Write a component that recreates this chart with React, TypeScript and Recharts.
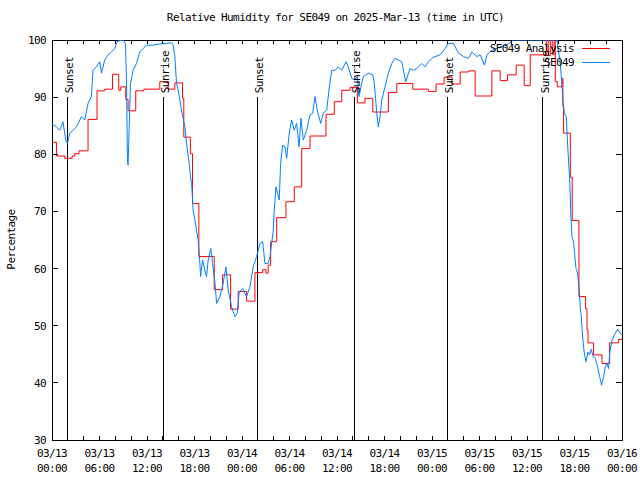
import React from 'react';
import { LineChart, Line, XAxis, YAxis, ReferenceLine, ReferenceDot, ReferenceArea, Legend } from 'recharts';

const FONT = '"DejaVu Sans Mono", "Liberation Mono", monospace';
const PLOT_W = 570;
const PLOT_H = 400;

const TITLE = 'Relative Humidity for SE049 on 2025-Mar-13 (time in UTC)';
const Y_LABEL = 'Percentage';

// x ticks (hours since 03/13 00:00 UTC)
const tickHours = [0, 2, 4, 6, 8, 10, 12, 14, 16, 18, 20, 22, 24, 26, 28, 30, 32, 34, 36, 38, 40, 42, 44, 46, 48, 50, 52, 54, 56, 58, 60, 62, 64, 66, 68, 70, 72];
const labelHours = [0, 6, 12, 18, 24, 30, 36, 42, 48, 54, 60, 66, 72];
const dateLabels = ['03/13', '03/13', '03/13', '03/13', '03/14', '03/14', '03/14', '03/14', '03/15', '03/15', '03/15', '03/15', '03/16'];
const timeLabels = ['00:00', '06:00', '12:00', '18:00', '00:00', '06:00', '12:00', '18:00', '00:00', '06:00', '12:00', '18:00', '00:00'];
const yTicks = [30, 40, 50, 60, 70, 80, 90, 100];

// sun events
const sunHours = [1.9, 14.05, 25.92, 38.15, 49.95, 62.02];
const sunLabels = ['Sunset', 'Sunrise', 'Sunset', 'Sunrise', 'Sunset', 'Sunrise'];
const sunLineTop = 90;

// SE049 Analysis (red, step)
const redHours = [0, 0.56, 1.61, 2.53, 2.87, 3.41, 4.55, 5.69, 6.66, 7.64, 8.43, 8.69, 9.32, 9.61, 10.58, 11.6, 13.62, 14.67, 15.52, 16.49, 16.65, 17.48, 17.75, 18.55, 20.49, 21.55, 22.56, 23.52, 24.58, 25.63, 26.61, 27.02, 27.31, 27.62, 28.38, 29.55, 30.6, 31.54, 32.59, 34.61, 35.66, 36.6, 37.65, 38.57, 39.54, 40.52, 42.49, 43.55, 45.57, 47.55, 48.52, 49.53, 50.51, 51.56, 52.61, 53.45, 55.56, 56.61, 57.54, 58.64, 59.65, 60.41, 62.43, 62.68, 62.94, 63.19, 63.44, 63.57, 63.82, 64.42, 64.54, 64.62, 65.47, 65.71, 66.56, 67.4, 67.58, 67.7, 68.41, 69.47, 70.44, 71.57, 72];
const redValues = [82.1, 79.7, 79.3, 79.7, 80.1, 80.6, 86.1, 91.1, 91.4, 94.0, 91.2, 91.8, 89.6, 87.6, 91.1, 91.4, 92.7, 91.4, 92.5, 89.8, 83.0, 80.1, 71.4, 62.1, 56.3, 58.9, 52.9, 56.0, 54.3, 59.3, 59.8, 59.2, 60.6, 64.7, 68.9, 71.7, 74.3, 81.0, 83.2, 87.0, 89.2, 91.2, 91.7, 89.0, 89.8, 87.4, 90.8, 92.4, 91.4, 91.0, 92.3, 93.5, 92.3, 94.4, 94.6, 90.2, 94.6, 92.9, 93.9, 95.6, 92.0, 97.4, 100, 97.3, 100, 97.5, 100, 92.7, 91.8, 93.3, 88.3, 83.7, 76.0, 68.4, 55.1, 53.0, 49.3, 47.0, 44.9, 43.4, 47.0, 47.6, 47.6];

// SE049 observations (blue)
const blueHours = [0, 0.56, 0.97, 1.39, 1.73, 1.95, 2.24, 2.66, 3.09, 3.72, 4.14, 4.55, 4.98, 5.18, 5.61, 6.03, 6.25, 6.66, 7.08, 7.51, 7.93, 8.22, 8.56, 8.98, 9.28, 9.41, 9.53, 9.61, 9.74, 9.91, 10.24, 10.67, 11.09, 11.94, 12.77, 13.62, 15.1, 15.3, 15.52, 15.73, 15.93, 16.15, 16.36, 16.78, 17.0, 17.32, 17.5, 17.63, 17.83, 18.05, 18.46, 18.68, 18.77, 19.02, 19.31, 19.52, 19.73, 20.07, 20.28, 20.57, 20.79, 21.21, 21.62, 21.97, 22.26, 22.69, 23.1, 23.39, 23.65, 24.08, 24.58, 25.0, 25.42, 25.85, 26.26, 26.61, 26.9, 27.31, 27.53, 27.95, 28.07, 28.29, 28.7, 28.88, 29.13, 29.43, 29.64, 29.97, 30.27, 30.6, 30.9, 31.2, 31.45, 31.74, 32.17, 32.59, 32.93, 33.22, 33.51, 33.94, 34.27, 34.7, 35.03, 35.33, 35.75, 36.17, 36.6, 37.14, 37.43, 37.86, 38.19, 38.57, 38.78, 39.12, 39.33, 39.96, 40.52, 40.72, 41.02, 41.22, 41.44, 41.65, 42.07, 42.49, 42.92, 43.34, 43.75, 44.18, 44.39, 44.69, 45.02, 45.23, 45.65, 46.08, 46.71, 47.13, 47.55, 48.18, 49.03, 49.66, 50.08, 50.71, 51.34, 51.97, 52.61, 53.03, 53.67, 54.08, 54.63, 54.93, 55.56, 56.61, 57.46, 58.3, 63.78, 64.2, 64.54, 64.71, 64.96, 65.17, 65.38, 65.55, 65.68, 65.88, 66.01, 66.19, 66.39, 66.6, 66.73, 66.86, 66.98, 67.15, 67.27, 67.45, 67.7, 67.91, 68.12, 68.34, 68.63, 68.92, 69.17, 69.42, 69.68, 69.89, 70.1, 70.31, 70.44, 70.74, 71.16, 71.45, 71.79, 72];
const blueValues = [85.3, 84.8, 84.2, 85.7, 82.5, 81.9, 83.7, 84.2, 84.8, 86.6, 86.0, 88.9, 90.1, 94.7, 95.3, 96.2, 94.2, 96.5, 97.4, 97.9, 98.5, 99.7, 99.9, 100, 99.4, 93.0, 79.0, 78.1, 84.2, 92.4, 94.7, 95.9, 97.9, 99.1, 99.1, 99.3, 99.5, 99.1, 97.1, 92.4, 91.2, 89.5, 87.7, 84.8, 81.9, 78.4, 76.0, 74.9, 70.2, 68.5, 65.0, 60.9, 58.6, 61.5, 59.7, 58.6, 61.5, 63.5, 60.9, 57.7, 53.9, 55.1, 57.4, 60.3, 56.2, 53.3, 51.6, 52.2, 55.9, 56.5, 55.1, 56.8, 60.3, 62.1, 64.4, 64.7, 60.9, 60.9, 62.1, 66.7, 70.2, 74.3, 72.0, 78.4, 81.6, 81.3, 79.3, 83.7, 86.0, 84.2, 85.4, 81.3, 86.3, 82.5, 84.2, 86.9, 87.2, 90.1, 87.7, 85.4, 87.2, 87.7, 91.8, 94.7, 94.7, 95.3, 94.7, 96.2, 95.3, 93.3, 93.0, 93.6, 90.1, 92.4, 93.6, 94.2, 93.9, 92.4, 87.2, 84.8, 86.6, 89.5, 91.8, 94.2, 95.9, 96.8, 96.5, 96.2, 94.7, 92.7, 94.2, 95.0, 94.7, 95.0, 95.9, 95.3, 96.2, 97.0, 97.4, 98.5, 99.4, 99.4, 97.7, 97.1, 96.8, 97.9, 97.1, 97.4, 95.6, 97.4, 98.2, 98.8, 99.1, 100, 100, 96.0, 89.5, 87.2, 86.6, 80.7, 76.0, 69.1, 65.6, 64.7, 62.7, 60.0, 59.2, 56.2, 53.3, 51.6, 48.9, 46.3, 44.9, 43.7, 45.4, 44.9, 45.9, 44.6, 44.3, 42.8, 41.1, 39.6, 41.1, 42.8, 43.4, 42.5, 45.2, 47.5, 48.7, 49.4, 48.7, 48.4];

const RED = '#ff0000';
const BLUE = '#0080ff';
const seriesNames = ['SE049 Analysis', 'SE049'];
const seriesColors = [RED, BLUE];

const redData = redHours.map((t, i) => ({ t, v: redValues[i] }));
const blueData = blueHours.map((t, i) => ({ t, v: blueValues[i] }));

const textStyle: React.CSSProperties = { fontFamily: FONT, fontSize: 11, letterSpacing: -0.6 };

const XTick = (props: any) => {
  const { x, y, payload } = props;
  const idx = labelHours.indexOf(payload.value);
  return (
    <g>
      <line x1={x} y1={y} x2={x} y2={y - 4} stroke="#000" shapeRendering="crispEdges" />
      <line x1={x} y1={y - PLOT_H} x2={x} y2={y - PLOT_H + 4} stroke="#000" shapeRendering="crispEdges" />
      {idx >= 0 && (
        <text x={x} y={y + 17} textAnchor="middle" fill="#000" style={textStyle}>{dateLabels[idx]}</text>
      )}
      {idx >= 0 && (
        <text x={x} y={y + 32} textAnchor="middle" fill="#000" style={textStyle}>{timeLabels[idx]}</text>
      )}
    </g>
  );
};

const YTick = (props: any) => {
  const { x, y, payload } = props;
  return (
    <g>
      <line x1={x} y1={y} x2={x + 6} y2={y} stroke="#000" shapeRendering="crispEdges" />
      <line x1={x + PLOT_W - 6} y1={y} x2={x + PLOT_W} y2={y} stroke="#000" shapeRendering="crispEdges" />
      <text x={x - 6} y={y} dy={4} textAnchor="end" fill="#000" style={textStyle}>{payload.value}</text>
    </g>
  );
};

const SunLabel = (text: string) => (p: any) => {
  const lx = p.cx + 2;
  const ly = p.cy - 4;
  return (
    <text x={lx} y={ly} dy={4} transform={`rotate(-90 ${lx} ${ly})`} textAnchor="start" fill="#000" style={textStyle}>{text}</text>
  );
};

const LegendBox = () => (
  <div>
    {seriesNames.map((n, i) => (
      <div key={n} style={{ display: 'flex', justifyContent: 'flex-end', alignItems: 'center', height: 14 }}>
        <span style={{ ...textStyle, color: '#000', whiteSpace: 'pre' }}>{n}</span>
        <div style={{ width: 28, height: 0, borderTop: `1px solid ${seriesColors[i]}`, marginLeft: 8 }} />
      </div>
    ))}
  </div>
);

export default function App() {
  return (
    <div style={{ position: 'absolute', left: 0, top: 0, width: 640, height: 480, background: '#fff' }}>
      <div style={{ position: 'absolute', left: 0, top: 11, width: 671, textAlign: 'center', ...textStyle, color: '#000', whiteSpace: 'pre' }}>{TITLE}</div>
      <div style={{ position: 'absolute', left: 11, top: 240, width: 0, height: 0 }}>
        <div style={{ position: 'absolute', left: -50, top: -7, width: 100, textAlign: 'center', transform: 'rotate(-90deg)', ...textStyle, color: '#000' }}>{Y_LABEL}</div>
      </div>
      <LineChart width={640} height={480} margin={{ top: 40, right: 18, bottom: 0, left: 0 }}>
        <ReferenceArea x1={0} x2={72} y1={30} y2={100} fill="none" stroke="#000" strokeWidth={1} ifOverflow="visible" shapeRendering="crispEdges" />
        <XAxis dataKey="t" type="number" domain={[0, 72]} ticks={tickHours} interval={0} tick={(p: any) => <XTick {...p} />} tickLine={false} axisLine={false} tickSize={0} tickMargin={0} height={40} allowDataOverflow />
        <YAxis type="number" domain={[30, 100]} ticks={yTicks} interval={0} tick={(p: any) => <YTick {...p} />} tickLine={false} axisLine={false} tickSize={0} tickMargin={0} width={52} allowDataOverflow />
        {sunHours.map((t, i) => (
          <ReferenceLine key={`l${i}`} segment={[{ x: t, y: 30 }, { x: t, y: sunLineTop }]} stroke="#000" strokeWidth={1} shapeRendering="crispEdges" />
        ))}
        {sunHours.map((t, i) => (
          <ReferenceDot key={`d${i}`} x={t} y={sunLineTop} r={0} ifOverflow="visible" shape={SunLabel(sunLabels[i])} />
        ))}
        <Line data={redData} dataKey="v" name={seriesNames[0]} type="stepAfter" stroke={RED} strokeWidth={1} dot={false} activeDot={false} isAnimationActive={false} />
        <Line data={blueData} dataKey="v" name={seriesNames[1]} type="linear" stroke={BLUE} strokeWidth={1} dot={false} activeDot={false} isAnimationActive={false} />
        <Legend layout="vertical" align="center" verticalAlign="middle" wrapperStyle={{ position: 'absolute', left: 470, top: 41, width: 140, height: 28 }} content={() => <LegendBox />} />
      </LineChart>
    </div>
  );
}
